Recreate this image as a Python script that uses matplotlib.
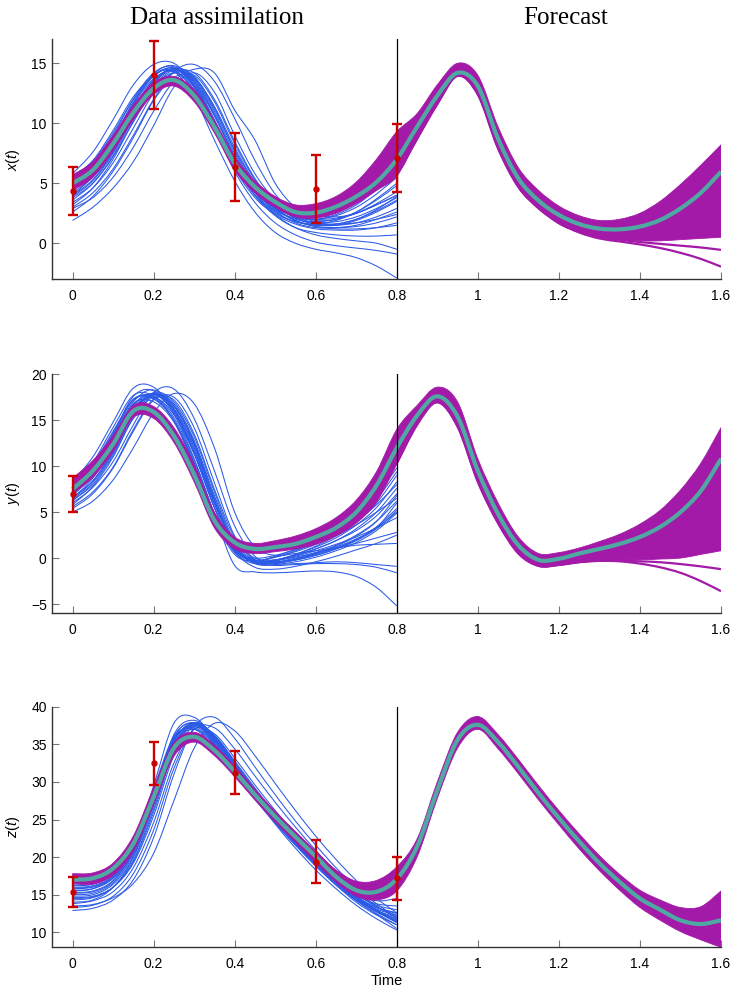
import numpy as np
import matplotlib
matplotlib.use('Agg')
import matplotlib.pyplot as plt
from matplotlib.path import Path
from matplotlib.patches import PathPatch

plt.rcParams['font.family'] = ['Liberation Sans', 'DejaVu Sans']
plt.rcParams['mathtext.fontset'] = 'custom'
plt.rcParams['mathtext.it'] = 'Liberation Sans:italic'
plt.rcParams['mathtext.rm'] = 'Liberation Sans'

# ---------------- time grid ----------------
T = [0.0, 0.05, 0.1, 0.15, 0.2, 0.25, 0.3, 0.35, 0.4, 0.45, 0.5, 0.55, 0.6, 0.65, 0.7, 0.75, 0.8,
     0.85, 0.9, 0.95, 1.0, 1.05, 1.1, 1.15, 1.2, 1.25, 1.3, 1.35, 1.4, 1.45, 1.5, 1.55, 1.6]
T_DA = T[:17]
T_FC = T[16:]

OBS_T = [0.0, 0.2, 0.4, 0.6, 0.8]

# ---------------- x(t) ----------------
x_mean = [5.0, 6.1, 8.3, 10.9, 12.9, 13.6, 12.3, 9.7, 6.65, 4.7, 3.45, 2.6, 2.55, 3.05, 3.9, 5.1, 7.0,
          9.7, 12.3, 14.2, 13.1, 8.7, 5.4, 3.55, 2.36, 1.6, 1.22, 1.16, 1.39, 1.94, 2.9, 4.2, 5.96]
x_purple_hi = [5.7, 6.8, 9.0, 11.5, 13.4, 13.9, 12.8, 10.2, 7.2, 5.2, 3.9, 3.2, 3.3, 3.9, 5.1, 7.0, 9.3,
               10.8, 13.2, 15.0, 14.0, 9.7, 6.3, 4.4, 3.1, 2.3, 1.9, 2.0, 2.5, 3.5, 4.9, 6.5, 8.2]
x_purple_lo = [4.4, 5.5, 7.7, 10.3, 12.4, 13.1, 11.8, 9.2, 6.1, 4.2, 3.0, 2.2, 2.1, 2.5, 3.3, 4.4, 5.6,
               8.6, 11.5, 13.9, 12.3, 7.8, 4.6, 2.9, 1.6, 0.9, 0.5, 0.3, 0.2, 0.2, 0.3, 0.4, 0.5]
x_tail_a = [5.8, 8.8, 11.7, 14.0, 12.5, 8.0, 4.8, 3.0, 1.8, 1.0, 0.5, 0.3, 0.1, -0.05, -0.2, -0.35, -0.55]
x_tail_b = [5.7, 8.7, 11.6, 13.95, 12.4, 7.9, 4.7, 2.9, 1.7, 0.9, 0.4, 0.15, -0.1, -0.4, -0.8, -1.3, -1.95]
x_blue = [
    [5.8, 7.6, 10.3, 13.2, 14.9, 15.0, 13.2, 10.0, 6.5, 4.3, 3.0, 2.3, 2.0, 2.1, 2.5, 3.3, 4.3],
    [4.0, 5.6, 8.2, 11.5, 14.0, 14.3, 12.2, 8.6, 5.2, 2.6, 0.9, 0.0, -0.5, -0.8, -1.2, -1.9, -2.9],
    [3.2, 4.6, 7.0, 10.2, 13.0, 14.2, 13.0, 9.6, 6.0, 3.4, 1.7, 0.7, 0.1, -0.2, -0.4, -0.6, -0.9],
    [3.6, 5.0, 7.3, 10.4, 13.1, 14.4, 13.6, 10.8, 7.2, 4.3, 2.4, 1.3, 0.7, 0.4, 0.2, 0.0, -0.5],
    [4.4, 5.8, 8.0, 11.0, 13.5, 14.5, 13.2, 10.2, 6.8, 4.0, 2.3, 1.3, 0.9, 0.7, 0.6, 0.6, 0.7],
    [4.2, 5.5, 7.6, 10.5, 13.3, 14.6, 13.8, 11.2, 7.8, 5.0, 3.0, 1.9, 1.4, 1.2, 1.2, 1.3, 1.5],
    [2.6, 3.9, 6.0, 8.8, 11.9, 13.8, 14.0, 11.8, 8.3, 5.3, 3.3, 2.2, 1.7, 1.6, 1.7, 2.0, 2.4],
    [1.9, 3.0, 4.6, 6.8, 9.8, 13.0, 14.2, 12.6, 9.0, 5.8, 3.6, 2.4, 1.9, 2.0, 2.5, 3.2, 4.0],
    [3.0, 4.2, 6.2, 9.0, 12.0, 14.3, 14.9, 13.5, 10.4, 6.9, 4.1, 2.5, 1.8, 1.8, 2.2, 2.9, 3.8],
    [2.9, 3.8, 5.5, 8.0, 11.0, 13.5, 14.5, 14.2, 11.1, 8.6, 5.0, 3.0, 2.4, 2.2, 2.5, 3.2, 4.0],
    [5.5, 6.9, 9.4, 12.2, 14.0, 14.6, 13.0, 10.0, 6.7, 4.3, 2.9, 2.3, 2.3, 2.8, 3.7, 5.0, 6.6],
    [4.8, 6.1, 8.4, 11.3, 13.6, 14.5, 13.5, 10.7, 7.3, 4.6, 3.0, 2.2, 2.0, 2.3, 3.0, 4.1, 5.5],
    [3.8, 5.0, 7.2, 10.1, 12.8, 14.2, 13.8, 11.4, 8.0, 5.1, 3.2, 2.1, 1.6, 1.6, 2.0, 2.7, 3.6],
    [5.2, 6.4, 8.7, 11.6, 13.7, 14.3, 12.7, 9.6, 6.2, 3.8, 2.4, 1.6, 1.2, 1.1, 1.1, 1.3, 1.7],
    [4.6, 6.0, 8.6, 11.8, 14.1, 14.8, 13.4, 10.3, 6.9, 4.2, 2.6, 1.8, 1.5, 1.6, 2.0, 2.8, 3.9],
    [5.3, 6.6, 9.0, 12.0, 14.2, 14.7, 13.1, 10.0, 6.5, 4.0, 2.5, 1.8, 1.6, 1.9, 2.6, 3.7, 5.0],
    [4.0, 5.3, 7.6, 10.7, 13.4, 14.6, 13.9, 11.3, 7.7, 4.8, 2.9, 1.9, 1.5, 1.5, 1.9, 2.6, 3.5],
    [3.4, 4.6, 6.7, 9.6, 12.5, 14.2, 14.2, 12.0, 8.5, 5.4, 3.3, 2.1, 1.6, 1.5, 1.7, 2.2, 2.9],
    [5.0, 6.3, 8.7, 11.7, 13.9, 14.6, 13.2, 10.2, 6.8, 4.3, 2.8, 2.0, 1.8, 2.0, 2.6, 3.6, 4.8],
    [4.5, 5.8, 8.2, 11.2, 13.6, 14.5, 13.4, 10.6, 7.1, 4.4, 2.7, 1.7, 1.3, 1.3, 1.5, 2.0, 2.6],
    [3.9, 5.2, 7.5, 10.6, 13.3, 14.5, 13.7, 11.0, 7.5, 4.7, 2.9, 1.9, 1.4, 1.3, 1.4, 1.7, 2.2],
    [5.6, 6.8, 9.2, 12.0, 14.0, 14.4, 12.8, 9.8, 6.4, 4.0, 2.7, 2.1, 2.0, 2.4, 3.2, 4.5, 6.0],
]
x_obs = [4.38, 14.0, 6.38, 4.52, 7.07]
x_err = [2.0, 2.83, 2.83, 2.83, 2.83]

# ---------------- y(t) ----------------
y_mean = [7.5, 9.5, 12.4, 16.0, 15.9, 13.3, 9.1, 4.1, 1.7, 1.0, 1.2, 1.55, 2.3, 3.3, 5.0, 7.9, 12.0,
          15.5, 17.6, 15.4, 9.5, 4.8, 1.4, -0.2, -0.07, 0.5, 1.0, 1.55, 2.3, 3.4, 5.0, 7.3, 10.8]
y_purple_hi = [8.7, 10.6, 13.3, 16.6, 16.5, 14.2, 10.2, 5.0, 2.3, 1.6, 1.9, 2.4, 3.2, 4.4, 6.3, 9.4, 14.0,
               16.6, 18.6, 17.0, 10.8, 6.0, 2.3, 0.5, 0.6, 1.1, 1.8, 2.6, 3.7, 5.2, 7.4, 10.3, 14.2]
y_purple_lo = [7.0, 8.8, 11.6, 15.3, 15.2, 12.6, 8.3, 3.3, 1.0, 0.5, 0.7, 1.0, 1.5, 2.4, 3.8, 6.1, 10.2,
               14.4, 16.9, 14.2, 8.2, 3.7, 0.5, -0.9, -0.8, -0.5, -0.3, -0.2, -0.2, -0.1, 0.0, 0.4, 0.8]
y_tail_a = [10.4, 14.6, 17.0, 14.4, 8.4, 3.9, 0.6, -0.8, -0.7, -0.4, -0.3, -0.3, -0.35, -0.45, -0.65, -0.9, -1.2]
y_tail_b = [10.3, 14.5, 16.95, 14.3, 8.3, 3.8, 0.5, -0.85, -0.75, -0.45, -0.3, -0.35, -0.6, -1.0, -1.6, -2.5, -3.6]
y_blue = [
    [8.3, 11.0, 14.8, 18.5, 18.6, 16.0, 11.5, 6.0, 1.5, -0.5, -0.8, -0.7, -0.6, -0.6, -0.7, -1.0, -1.6],
    [7.0, 9.7, 13.5, 17.6, 18.2, 15.7, 10.8, 4.8, -0.8, -1.5, -1.6, -1.5, -1.4, -1.5, -2.0, -3.2, -5.2],
    [6.0, 7.7, 10.5, 14.5, 18.0, 18.4, 15.2, 9.5, 3.5, 0.2, -0.6, -0.6, -0.5, -0.4, -0.5, -0.7, -0.9],
    [5.0, 6.2, 8.5, 12.0, 15.8, 17.9, 16.8, 12.0, 5.0, 1.2, 0.3, 0.5, 0.8, 1.1, 1.4, 1.5, 1.6],
    [5.6, 7.2, 9.9, 14.0, 17.3, 17.2, 13.5, 7.5, 2.2, 0.0, -0.2, 0.1, 0.6, 1.1, 1.6, 2.2, 2.8],
    [6.5, 8.7, 12.0, 16.0, 17.8, 16.3, 12.2, 6.2, 1.3, -0.4, -0.3, 0.2, 0.8, 1.5, 2.3, 3.3, 4.4],
    [7.8, 10.4, 14.2, 17.7, 17.6, 15.0, 10.2, 4.5, 0.6, -0.6, -0.3, 0.4, 1.3, 2.4, 3.6, 5.0, 6.5],
    [6.8, 9.0, 12.3, 16.3, 17.5, 15.6, 11.3, 5.5, 1.0, -0.2, 0.1, 0.7, 1.5, 2.6, 4.0, 5.8, 8.0],
    [8.0, 10.2, 13.8, 17.2, 17.4, 15.0, 10.3, 4.3, 0.4, -0.3, 0.2, 1.0, 1.9, 3.0, 4.6, 6.8, 9.8],
    [5.8, 7.8, 11.0, 15.3, 17.8, 16.8, 12.8, 6.8, 1.6, -0.4, -0.2, 0.3, 1.0, 1.9, 3.0, 4.6, 7.0],
    [7.3, 9.5, 12.9, 16.8, 17.0, 14.8, 10.0, 4.3, 0.8, 0.0, 0.3, 0.9, 1.6, 2.6, 4.0, 6.0, 9.0],
    [6.3, 8.0, 11.2, 15.2, 17.5, 16.5, 12.5, 6.3, 1.2, -0.5, -0.5, -0.1, 0.5, 1.2, 2.1, 3.3, 6.0],
    [7.5, 9.8, 13.3, 17.0, 18.3, 16.2, 11.5, 5.5, 0.8, -1.0, -1.2, -0.9, -0.4, 0.2, 0.9, 1.6, 2.5],
    [6.6, 8.4, 11.5, 15.6, 18.0, 17.0, 13.2, 7.2, 1.8, -0.2, -0.4, -0.2, 0.3, 1.0, 2.0, 3.3, 5.0],
    [7.1, 9.2, 12.5, 16.5, 17.9, 16.0, 11.8, 5.9, 1.4, -0.3, -0.4, 0.0, 0.6, 1.4, 2.5, 4.0, 6.2],
    [6.2, 8.2, 11.4, 15.5, 17.7, 16.6, 12.6, 6.6, 1.5, -0.5, -0.6, -0.2, 0.4, 1.1, 2.0, 3.4, 5.4],
    [7.6, 9.9, 13.4, 17.2, 17.6, 15.3, 10.7, 4.9, 0.9, -0.4, -0.2, 0.4, 1.2, 2.2, 3.6, 5.5, 8.3],
    [6.9, 8.9, 12.2, 16.2, 17.9, 16.2, 12.0, 6.0, 1.2, -0.6, -0.7, -0.4, 0.1, 0.8, 1.7, 3.0, 4.9],
    [5.4, 7.0, 9.8, 13.8, 17.2, 17.5, 14.2, 8.2, 2.4, -0.2, -0.5, -0.2, 0.3, 1.0, 1.9, 3.2, 5.2],
    [7.9, 10.1, 13.6, 17.3, 17.3, 15.0, 10.4, 4.6, 0.7, -0.3, 0.1, 0.8, 1.7, 2.8, 4.3, 6.4, 9.4],
    [6.4, 8.4, 11.7, 15.8, 17.9, 16.6, 12.4, 6.3, 1.3, -0.5, -0.5, -0.1, 0.5, 1.3, 2.4, 4.0, 6.8],
    [7.2, 9.3, 12.7, 16.7, 17.8, 15.8, 11.4, 5.5, 1.1, -0.3, -0.2, 0.3, 1.0, 1.9, 3.2, 5.0, 7.6],
]
y_obs_t = [0.0]
y_obs = [6.97]
y_err = [2.0]

# ---------------- z(t) ----------------
z_mean = [17.0, 17.2, 18.5, 21.8, 28.0, 34.5, 36.0, 34.2, 31.4, 28.3, 25.4, 22.7, 20.1, 17.4, 15.6, 15.4, 17.1,
          21.4, 28.9, 35.6, 37.6, 35.3, 32.0, 28.5, 25.2, 22.1, 19.2, 16.7, 14.5, 13.0, 11.6, 11.1, 11.6]
z_purple_hi = [17.8, 17.9, 19.2, 22.8, 29.2, 35.2, 36.6, 34.9, 32.1, 29.0, 26.1, 23.4, 20.8, 18.3, 16.8, 16.9, 18.7,
               22.4, 30.0, 36.6, 38.7, 36.3, 33.0, 29.5, 26.2, 23.1, 20.2, 17.7, 15.6, 14.3, 13.3, 13.4, 15.5]
z_purple_lo = [16.5, 16.4, 17.6, 20.8, 27.0, 33.4, 35.3, 33.5, 30.7, 27.6, 24.7, 22.0, 19.3, 16.7, 14.8, 14.3, 15.5,
               20.0, 27.8, 34.5, 37.0, 34.4, 31.1, 27.6, 24.3, 21.1, 18.2, 15.6, 13.3, 11.6, 10.1, 9.0, 8.0]
z_blue = [
    [15.5, 15.8, 17.5, 21.5, 29.5, 37.8, 38.6, 35.8, 32.0, 28.5, 25.2, 22.2, 19.4, 16.8, 14.6, 12.8, 11.3],
    [14.0, 14.3, 16.0, 20.0, 27.8, 36.3, 38.2, 36.0, 32.3, 28.7, 25.3, 22.2, 19.3, 16.6, 14.3, 12.4, 10.5],
    [12.9, 13.2, 14.3, 17.0, 22.6, 31.0, 37.3, 38.6, 35.8, 32.0, 28.3, 24.8, 21.6, 18.6, 16.0, 13.8, 12.0],
    [13.5, 13.7, 14.6, 16.5, 20.5, 27.5, 34.5, 37.8, 36.8, 33.5, 29.8, 26.2, 22.8, 19.7, 16.9, 14.5, 12.6],
    [15.0, 15.2, 16.6, 20.3, 27.0, 34.8, 37.6, 35.6, 32.0, 28.4, 25.0, 21.9, 19.0, 16.4, 14.2, 12.5, 11.0],
    [16.2, 16.4, 17.8, 21.6, 28.7, 35.8, 37.2, 34.9, 31.4, 27.9, 24.6, 21.6, 18.8, 16.3, 14.3, 12.9, 12.0],
    [14.6, 14.8, 16.0, 19.2, 25.5, 33.5, 37.4, 36.2, 32.8, 29.2, 25.8, 22.7, 19.8, 17.1, 14.8, 13.0, 11.6],
    [17.2, 17.3, 18.6, 22.3, 29.2, 36.0, 37.0, 34.6, 31.1, 27.7, 24.5, 21.6, 19.0, 16.7, 14.9, 13.8, 13.5],
    [15.8, 16.0, 17.2, 20.6, 27.5, 35.0, 37.8, 35.8, 32.3, 28.8, 25.4, 22.4, 19.6, 17.1, 15.0, 13.6, 13.0],
    [13.8, 14.2, 15.4, 18.6, 24.6, 32.5, 37.0, 36.4, 33.2, 29.6, 26.2, 23.0, 20.1, 17.4, 15.2, 13.4, 12.2],
    [16.6, 16.8, 18.0, 21.8, 28.6, 35.6, 37.6, 35.2, 31.7, 28.2, 24.9, 21.9, 19.1, 16.6, 14.5, 12.8, 11.8],
    [15.2, 15.4, 16.8, 20.8, 28.2, 36.0, 37.8, 35.2, 31.5, 27.9, 24.4, 21.2, 18.3, 15.8, 13.6, 11.8, 10.3],
    [14.3, 14.6, 16.0, 19.6, 26.4, 34.2, 37.8, 36.2, 32.6, 29.0, 25.6, 22.5, 19.6, 17.0, 14.7, 12.9, 11.4],
    [16.9, 17.0, 18.3, 21.8, 28.4, 35.2, 37.0, 35.0, 31.6, 28.2, 25.0, 22.1, 19.5, 17.2, 15.3, 14.2, 14.5],
    [15.6, 15.8, 17.2, 21.0, 28.3, 36.0, 37.9, 35.6, 32.0, 28.5, 25.1, 22.0, 19.2, 16.6, 14.4, 12.7, 11.5],
    [14.8, 15.0, 16.4, 20.0, 26.8, 34.6, 37.9, 36.0, 32.5, 28.9, 25.5, 22.4, 19.5, 16.9, 14.6, 12.8, 11.3],
    [16.0, 16.2, 17.5, 21.2, 28.0, 35.5, 37.6, 35.4, 31.9, 28.4, 25.1, 22.1, 19.3, 16.8, 14.7, 13.1, 12.3],
    [13.3, 13.6, 14.8, 17.8, 23.6, 31.8, 37.0, 37.2, 34.4, 30.8, 27.3, 24.0, 20.9, 18.0, 15.5, 13.5, 11.9],
    [15.3, 15.5, 16.9, 20.6, 27.6, 35.3, 37.7, 35.5, 31.8, 28.3, 24.9, 21.8, 18.9, 16.3, 14.0, 12.3, 11.0],
    [16.4, 16.6, 17.9, 21.5, 28.4, 35.6, 37.4, 35.1, 31.6, 28.1, 24.8, 21.8, 19.1, 16.7, 14.7, 13.3, 12.6],
    [14.5, 14.7, 16.0, 19.4, 26.0, 34.0, 37.6, 36.0, 32.5, 28.9, 25.5, 22.4, 19.5, 16.9, 14.6, 12.9, 11.7],
    [15.9, 16.1, 17.4, 21.0, 27.9, 35.4, 37.9, 35.7, 32.1, 28.6, 25.2, 22.2, 19.4, 16.9, 14.8, 13.3, 12.5],
]
z_obs = [15.41, 32.47, 31.23, 19.4, 17.18]
z_err = [2.0, 2.83, 2.83, 2.83, 2.83]

# ---------------- styling ----------------
BLUE = '#2b5ae6'
PURPLE = '#a31aa8'
TEAL = '#4fa9a2'
RED = '#cc0000'

XTICKS = [0, 0.2, 0.4, 0.6, 0.8, 1.0, 1.2, 1.4, 1.6]
XTICKLABELS = ['0', '0.2', '0.4', '0.6', '0.8', '1', '1.2', '1.4', '1.6']


def bezier_segments(xs, ys):
    """Smooth cubic-Bezier rendering (Catmull-Rom) of the sampled curve."""
    pts = np.column_stack([np.asarray(xs, float), np.asarray(ys, float)])
    n = len(pts)
    verts = []
    for i in range(n - 1):
        p0 = pts[i - 1] if i > 0 else pts[i]
        p1 = pts[i]
        p2 = pts[i + 1]
        p3 = pts[i + 2] if i + 2 < n else pts[i + 1]
        verts += [p1 + (p2 - p0) / 6.0, p2 - (p3 - p1) / 6.0, p2]
    return pts[0], verts


def smooth_line(ax, xs, ys, **kw):
    start, verts = bezier_segments(xs, ys)
    path = Path([start] + verts, [Path.MOVETO] + [Path.CURVE4] * len(verts))
    ax.add_patch(PathPatch(path, facecolor='none', capstyle='butt', joinstyle='round', **kw))


def smooth_band(ax, xs, lo, hi, **kw):
    s1, v1 = bezier_segments(xs, hi)
    s2, v2 = bezier_segments(xs[::-1], lo[::-1])
    verts = [s1] + v1 + [s2] + v2 + [s1]
    codes = ([Path.MOVETO] + [Path.CURVE4] * len(v1) + [Path.LINETO] +
             [Path.CURVE4] * len(v2) + [Path.CLOSEPOLY])
    ax.add_patch(PathPatch(Path(verts, codes), **kw))


panels = [
    dict(pos=[0.070, 0.7199, 0.8952, 0.2407], ylim=(-3, 17), yticks=[0, 5, 10, 15], label=r'$x(t)$',
         mean=x_mean, hi=x_purple_hi, lo=x_purple_lo, tails=[x_tail_a, x_tail_b], blue=x_blue,
         obs_t=OBS_T, obs=x_obs, err=x_err),
    dict(pos=[0.070, 0.3849, 0.8952, 0.2397], ylim=(-6, 20), yticks=[-5, 0, 5, 10, 15, 20], label=r'$y(t)$',
         mean=y_mean, hi=y_purple_hi, lo=y_purple_lo, tails=[y_tail_a, y_tail_b], blue=y_blue,
         obs_t=y_obs_t, obs=y_obs, err=y_err),
    dict(pos=[0.070, 0.0498, 0.8952, 0.2413], ylim=(8, 40), yticks=[10, 15, 20, 25, 30, 35, 40], label=r'$z(t)$',
         mean=z_mean, hi=z_purple_hi, lo=z_purple_lo, tails=[], blue=z_blue,
         obs_t=OBS_T, obs=z_obs, err=z_err),
]

fig = plt.figure(figsize=(7.47, 9.97), dpi=100)

for p in panels:
    ax = fig.add_axes(p['pos'])
    for member in p['blue']:
        smooth_line(ax, T_DA, member, edgecolor=BLUE, lw=0.75, zorder=2)
    smooth_band(ax, T, p['lo'], p['hi'], facecolor=PURPLE, edgecolor=PURPLE, lw=0.6, zorder=3)
    for tail in p['tails']:
        smooth_line(ax, T_FC, tail, edgecolor=PURPLE, lw=1.6, zorder=3)
    smooth_line(ax, T, p['mean'], edgecolor=TEAL, lw=3.0, zorder=4)
    ax.axvline(0.8, color='black', lw=0.9, zorder=5)
    ax.errorbar(p['obs_t'], p['obs'], yerr=p['err'], fmt='o', color=RED, ms=3.6,
                capsize=3.5, elinewidth=1.7, capthick=1.7, zorder=6, clip_on=False)

    ax.set_xlim(-0.05, 1.6)
    ax.set_ylim(*p['ylim'])
    ax.set_xticks(XTICKS)
    ax.set_xticklabels(XTICKLABELS)
    ax.set_yticks(p['yticks'])
    ax.spines['top'].set_visible(False)
    ax.spines['right'].set_visible(False)
    for s in ('left', 'bottom'):
        ax.spines[s].set_color('#333333')
        ax.spines[s].set_linewidth(1.0)
    ax.tick_params(axis='both', direction='in', length=5, width=0.8, color='#777777',
                   labelsize=10, labelcolor='black')
    ax.tick_params(axis='x', pad=7)
    ax.tick_params(axis='y', pad=4)
    ax.set_ylabel(p['label'], fontsize=10.5)
    ax.yaxis.set_label_coords(-0.046, 0.5)

fig.text(217 / 747, 1 - 18 / 997, 'Data assimilation', family=['Liberation Serif', 'DejaVu Serif'],
         fontsize=18, ha='center', va='center')
fig.text(566 / 747, 1 - 18 / 997, 'Forecast', family=['Liberation Serif', 'DejaVu Serif'],
         fontsize=18, ha='center', va='center')
fig.text(387 / 747, 1 - 981 / 997, 'Time', fontsize=10.5, ha='center', va='center')

fig.savefig('out.png', dpi=100)
